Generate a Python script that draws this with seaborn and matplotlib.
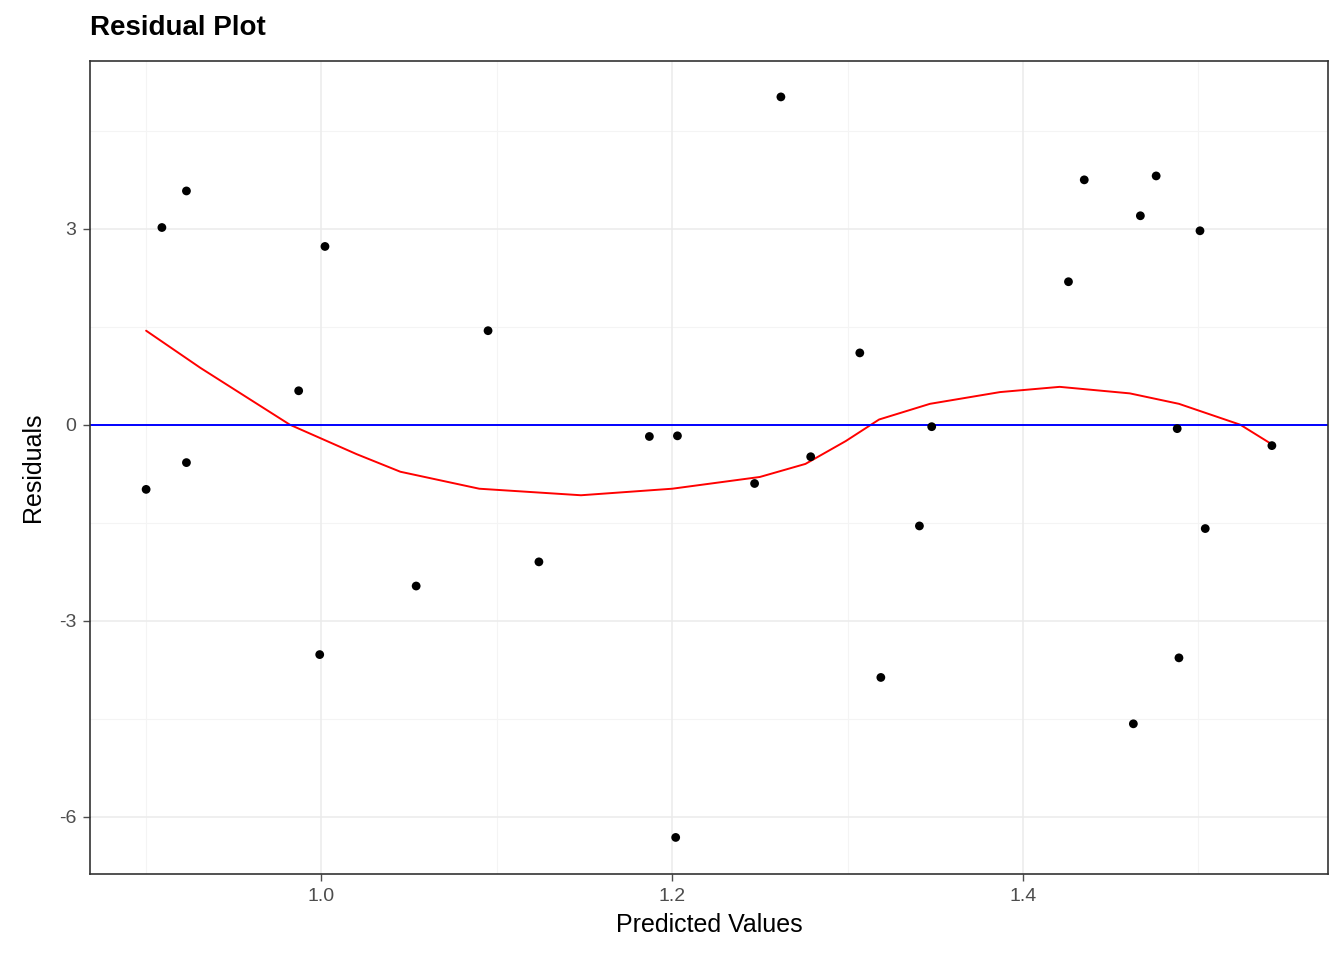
import matplotlib.pyplot as plt
import pandas as pd
import seaborn as sns

# values
predicted = [0.900, 0.909, 0.923, 0.923, 0.987, 1.002, 0.999, 1.054, 1.095, 1.124,
             1.187, 1.203, 1.202, 1.247, 1.262, 1.279, 1.307, 1.319, 1.341, 1.348,
             1.426, 1.435, 1.463, 1.467, 1.476, 1.488, 1.489, 1.501, 1.504, 1.542]
residuals = [-0.99, 3.02, 3.58, -0.58, 0.52, 2.73, -3.52, -2.47, 1.44, -2.10,
             -0.18, -0.17, -6.32, -0.90, 5.02, -0.49, 1.10, -3.87, -1.55, -0.03,
             2.19, 3.75, -4.58, 3.20, 3.81, -0.06, -3.57, 2.97, -1.59, -0.32]

# smoothed (loess) curve
smooth_x = [0.900, 0.931, 0.982, 1.020, 1.045, 1.090, 1.148, 1.200, 1.250, 1.276, 1.299,
            1.318, 1.347, 1.387, 1.421, 1.461, 1.489, 1.524, 1.542]
smooth_y = [1.44, 0.87, 0.00, -0.45, -0.72, -0.98, -1.08, -0.98, -0.80, -0.60, -0.25,
            0.08, 0.32, 0.50, 0.58, 0.48, 0.32, 0.00, -0.30]

df = pd.DataFrame({"pred": predicted, "resid": residuals})
curve = pd.DataFrame({"x": smooth_x, "y": smooth_y})

sns.set_style("white")
plt.rcParams["font.family"] = ["Liberation Sans", "DejaVu Sans"]

fig = plt.figure(figsize=(13.44, 9.6), dpi=100)
ax = fig.add_axes([90 / 1344, 1 - 874 / 960, (1328 - 90) / 1344, (874 - 61) / 960])

for v in [0.9, 1.1, 1.3, 1.5]:
    ax.axvline(v, color="#f4f4f4", lw=0.8, zorder=0)
for v in [-4.5, -1.5, 1.5, 4.5]:
    ax.axhline(v, color="#f4f4f4", lw=0.8, zorder=0)
for v in [1.0, 1.2, 1.4]:
    ax.axvline(v, color="#ebebeb", lw=1.1, zorder=0)
for v in [-6, -3, 0, 3]:
    ax.axhline(v, color="#ebebeb", lw=1.1, zorder=0)

sns.scatterplot(data=df, x="pred", y="resid", color="black", s=40, edgecolor="none", ax=ax, zorder=3)
sns.lineplot(data=curve, x="x", y="y", color="red", lw=1.4, ax=ax, zorder=2)
ax.axhline(0, color="blue", lw=1.4, zorder=2)

ax.set_xlim(0.868, 1.574)
ax.set_ylim(-6.88, 5.57)
ax.set_xticks([1.0, 1.2, 1.4])
ax.set_yticks([-6, -3, 0, 3])
ax.set_xticklabels(["1.0", "1.2", "1.4"])
ax.set_yticklabels(["-6", "-3", "0", "3"])
ax.tick_params(axis="both", labelsize=14, colors="#4d4d4d", length=5, width=1, left=True, bottom=True, pad=5)
ax.set_xlabel("Predicted Values", fontsize=18, color="black", labelpad=6)
ax.set_ylabel("Residuals", fontsize=18, color="black", labelpad=10)
for s in ax.spines.values():
    s.set_color("#333333")
    s.set_linewidth(1.2)

fig.text(90 / 1344, 1 - 28 / 960, "Residual Plot", fontsize=20, fontweight="bold",
         color="black", va="center", ha="left")

fig.savefig("out.png", dpi=100)
